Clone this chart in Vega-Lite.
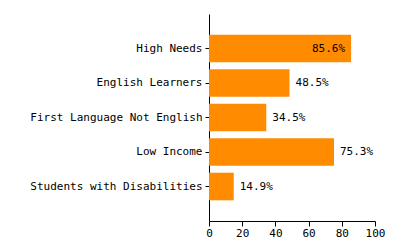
{
  "$schema": "https://vega.github.io/schema/vega-lite/v6.json",
  "autosize": "none",
  "padding": {"left": 209, "top": 14, "right": 25, "bottom": 29},
  "width": 166,
  "height": 207,
  "background": "white",
  "config": {"view": {"stroke": null}, "font": "DejaVu Sans Mono"},
  "data": {"values": [
    {"group": "High Needs", "value": 85.6},
    {"group": "English Learners", "value": 48.5},
    {"group": "First Language Not English", "value": 34.5},
    {"group": "Low Income", "value": 75.3},
    {"group": "Students with Disabilities", "value": 14.9}
  ]},
  "transform": [{"calculate": "format(datum.value, '.1f') + '%'", "as": "label"}],
  "encoding": {
    "y": {"field": "group", "type": "nominal", "sort": null,
      "scale": {"paddingInner": 0.2, "paddingOuter": 0.6},
      "axis": {"title": null, "domainColor": "black", "tickColor": "black", "tickSize": 4,
        "labelFont": "DejaVu Sans Mono", "labelFontSize": 11, "labelColor": "black", "labelPadding": 3}},
    "x": {"field": "value", "type": "quantitative",
      "scale": {"domain": [0, 100], "nice": false},
      "axis": {"title": null, "grid": false, "values": [0, 20, 40, 60, 80, 100], "domainColor": "black",
        "tickColor": "black", "tickSize": 5, "labelFont": "DejaVu Sans Mono", "labelFontSize": 11,
        "labelColor": "black", "labelPadding": 1, "labelFlush": false}}
  },
  "layer": [
    {"mark": {"type": "bar", "color": "#FF8C00"}},
    {"transform": [{"filter": "datum.value <= 80"}],
      "mark": {"type": "text", "align": "left", "dx": 6, "font": "DejaVu Sans Mono", "fontSize": 11, "color": "black"},
      "encoding": {"text": {"field": "label", "type": "nominal"}}},
    {"transform": [{"filter": "datum.value > 80"}],
      "mark": {"type": "text", "align": "right", "dx": -6, "font": "DejaVu Sans Mono", "fontSize": 11, "color": "black"},
      "encoding": {"text": {"field": "label", "type": "nominal"}}}
  ]
}
